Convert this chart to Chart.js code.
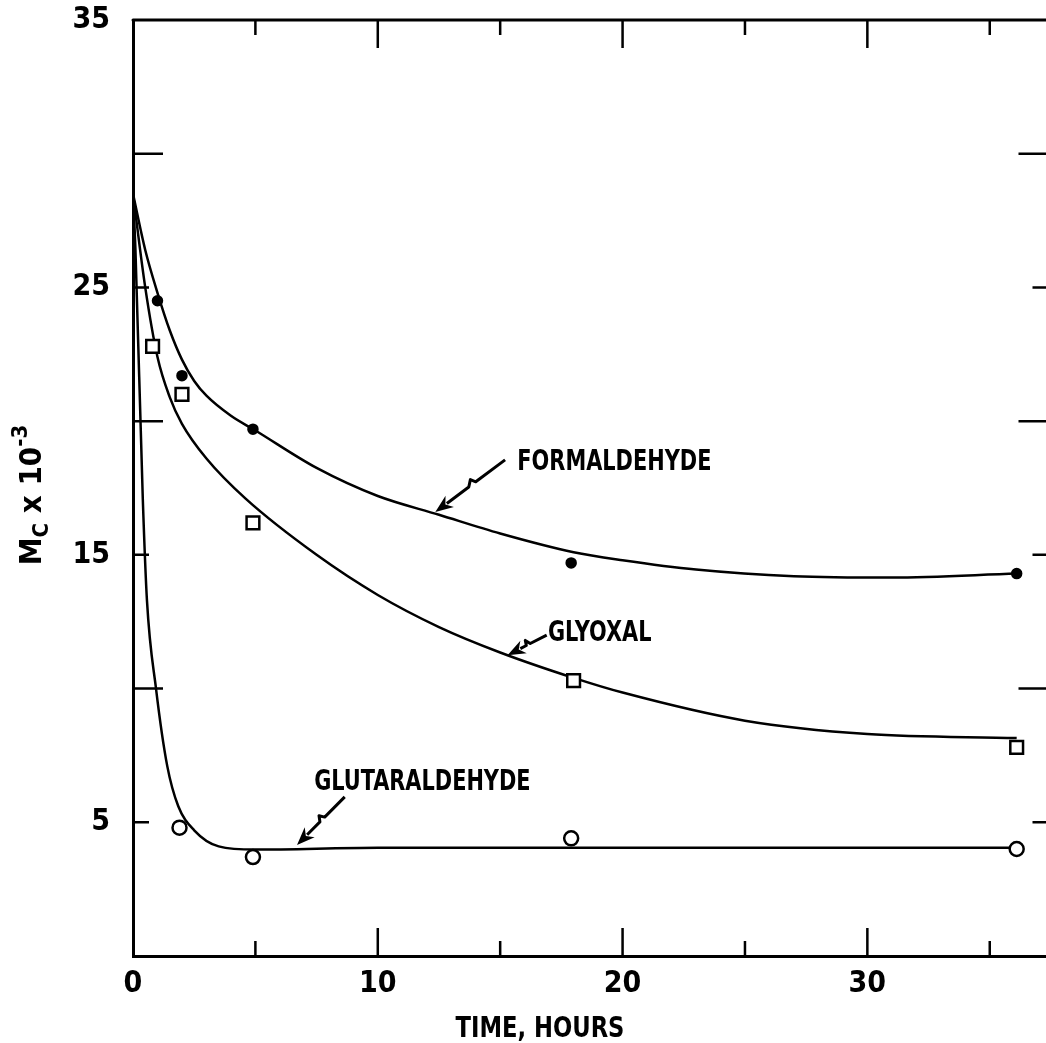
<!DOCTYPE html>
<html>
<head>
<meta charset="utf-8">
<title>Mc vs time</title>
<script src="https://cdn.jsdelivr.net/npm/chart.js@4.4.1/dist/chart.umd.min.js"></script>
<style>
  html, body { margin: 0; padding: 0; background: #fff; overflow: hidden; }
  #wrap { width: 1060px; height: 1043px; }
</style>
</head>
<body>
<div id="wrap"><canvas id="mcChart" width="1060" height="1043"></canvas></div>
<script>
// ---- measured points (time in hours, Mc x 10^-3) ----
const formTimes = [1.0, 2.0, 4.9, 17.9, 36.1];
const formMc    = [24.5, 21.7, 19.7, 14.7, 14.3];

const glyTimes  = [0.8, 2.0, 4.9, 18.0, 36.1];
const glyMc     = [22.8, 21.0, 16.2, 10.3, 7.8];

const glutTimes = [1.9, 4.9, 17.9, 36.1];
const glutMc    = [4.8, 3.7, 4.4, 4.0];

// ---- hand-fitted curves ----
const formCurveT  = [0, 0.5, 1, 1.5, 2, 2.5, 3, 4, 5, 7.5, 10, 12.5, 15, 18, 20, 23, 27, 31, 36.1];
const formCurveMc = [28.5, 26.4, 24.8, 23.4, 22.3, 21.5, 20.95, 20.2, 19.65, 18.25, 17.2, 16.5, 15.8, 15.1, 14.8, 14.45, 14.2, 14.15, 14.3];

const glyCurveT  = [0, 0.5, 1, 1.5, 2, 3, 4.6, 7.5, 10, 12.5, 15, 18, 20, 25, 30, 36.1];
const glyCurveMc = [28.5, 25.0, 22.4, 20.9, 19.9, 18.6, 17.1, 15.0, 13.5, 12.3, 11.35, 10.4, 9.85, 8.8, 8.3, 8.15];

const glutCurveT  = [0, 0.1, 0.4, 0.57, 0.94, 1.4, 1.85, 2.5, 3.5, 5, 10, 20, 36.1];
const glutCurveMc = [28.5, 26.4, 17.1, 13.3, 10.0, 7.1, 5.6, 4.7, 4.1, 3.98, 4.05, 4.05, 4.05];

// ---- axes ----
const xTickLabels = [0, 10, 20, 30];
const yTickLabels = [5, 15, 25, 35];
const xTickMarks  = [5, 10, 15, 20, 25, 30, 35];
const yTickMarks  = [5, 10, 15, 20, 25, 30];

const FONT = "'Liberation Sans Narrow', 'DejaVu Sans Condensed', sans-serif";

// curve labels with their pointer arrows (data coordinates)
const curveLabels = [
  { text: "FORMALDEHYDE",   at: [15.7, 18.45], tail: [15.2, 18.55], head: [12.35, 16.6] },
  { text: "GLYOXAL",        at: [16.95, 12.05], tail: [16.9, 12.0], head: [15.3, 11.25] },
  { text: "GLUTARALDEHYDE", at: [7.4, 6.5],   tail: [8.65, 5.95], head: [6.7, 4.15] }
];

function toXY(xs, ys) {
  return xs.map((x, i) => ({ x: x, y: ys[i] }));
}

function curve(xs, ys) {
  return {
    data: toXY(xs, ys),
    showLine: true,
    borderColor: "#000",
    borderWidth: 2.5,
    pointRadius: 0,
    cubicInterpolationMode: "monotone",
    fill: false,
    order: 2
  };
}

function marks(xs, ys, style, radius, filled) {
  return {
    data: toXY(xs, ys),
    showLine: false,
    pointStyle: style,
    pointRadius: radius,
    pointBorderWidth: 2.5,
    pointBorderColor: "#000",
    pointBackgroundColor: filled ? "#000" : "#fff",
    order: 1
  };
}

// no overflow padding for end labels: the frame sits where afterFit puts it
function noScalePadding(s) {
  s.paddingTop = 0;
  s.paddingBottom = 0;
  s.paddingLeft = 0;
  s.paddingRight = 0;
}

// ========================
// ARROWS
// ========================
function drawArrow(ctx, x1, y1, x2, y2) {
  const dx = x2 - x1, dy = y2 - y1;
  const len = Math.hypot(dx, dy);
  const ux = dx / len, uy = dy / len;
  const nx = -uy, ny = ux;
  const headLen = 18, headW = 7;

  const k1 = 0.42 * len, k2 = 0.52 * len;
  ctx.beginPath();
  ctx.moveTo(x1, y1);
  ctx.lineTo(x1 + ux * k1, y1 + uy * k1);
  ctx.lineTo(x1 + ux * (k1 + 3) + nx * 5, y1 + uy * (k1 + 3) + ny * 5);
  ctx.lineTo(x1 + ux * k2, y1 + uy * k2);
  ctx.lineTo(x2 - ux * headLen * 0.8, y2 - uy * headLen * 0.8);
  ctx.stroke();

  ctx.beginPath();
  ctx.moveTo(x2, y2);
  ctx.lineTo(x2 - ux * headLen + nx * headW, y2 - uy * headLen + ny * headW);
  ctx.lineTo(x2 - ux * headLen * 0.7, y2 - uy * headLen * 0.7);
  ctx.lineTo(x2 - ux * headLen - nx * headW, y2 - uy * headLen - ny * headW);
  ctx.closePath();
  ctx.fill();
}

// frame, inward ticks, axis titles and curve labels
const decorations = {
  id: "decorations",
  afterDraw(chart) {
    const ctx = chart.ctx;
    const xs = chart.scales.x, ys = chart.scales.y;
    const a = chart.chartArea;

    ctx.save();
    ctx.strokeStyle = "#000";
    ctx.fillStyle = "#000";
    ctx.lineCap = "round";

    // top edge of the frame
    ctx.lineWidth = 3;
    ctx.beginPath();
    ctx.moveTo(a.left, a.top);
    ctx.lineTo(a.right, a.top);
    ctx.stroke();

    ctx.lineWidth = 2.5;
    ctx.lineCap = "butt";
    xTickMarks.forEach(v => {
      const px = xs.getPixelForValue(v);
      const len = v % 10 === 0 ? 28 : 15;
      ctx.beginPath();
      ctx.moveTo(px, a.bottom);
      ctx.lineTo(px, a.bottom - len);
      ctx.moveTo(px, a.top);
      ctx.lineTo(px, a.top + len);
      ctx.stroke();
    });
    yTickMarks.forEach(v => {
      const py = ys.getPixelForValue(v);
      const len = v % 10 === 0 ? 30 : 16;
      ctx.beginPath();
      ctx.moveTo(a.left, py);
      ctx.lineTo(a.left + len, py);
      ctx.moveTo(a.right, py);
      ctx.lineTo(a.right - len, py);
      ctx.stroke();
    });

    // x title
    ctx.save();
    ctx.translate(540, 1037);
    ctx.scale(0.9, 1);
    ctx.font = "bold 28px " + FONT;
    ctx.textAlign = "center";
    ctx.textBaseline = "alphabetic";
    ctx.fillText("TIME, HOURS", 0, 0);
    ctx.restore();

    // y title: Mc x 10^-3, rotated
    ctx.save();
    ctx.translate(41, 495);
    ctx.rotate(-Math.PI / 2);
    const big = "bold 31px " + FONT, small = "bold 22px " + FONT;
    const parts = [
      { t: "M", f: big, dy: 0 },
      { t: "C", f: small, dy: 7 },
      { t: " x 10", f: big, dy: 0 },
      { t: "-3", f: small, dy: -14 }
    ];
    let total = 0;
    parts.forEach(p => { ctx.font = p.f; p.w = ctx.measureText(p.t).width; total += p.w; });
    let cx = -total / 2;
    ctx.textAlign = "left";
    parts.forEach(p => {
      ctx.font = p.f;
      ctx.fillText(p.t, cx, p.dy);
      cx += p.w;
    });
    ctx.restore();

    // curve labels, lettering condensed
    curveLabels.forEach(l => {
      ctx.save();
      ctx.translate(xs.getPixelForValue(l.at[0]), ys.getPixelForValue(l.at[1]));
      ctx.scale(0.8, 1);
      ctx.font = "bold 29px " + FONT;
      ctx.textAlign = "left";
      ctx.textBaseline = "middle";
      ctx.fillText(l.text, 0, 0);
      ctx.restore();
    });

    ctx.lineWidth = 3;
    ctx.lineJoin = "round";
    curveLabels.forEach(l => {
      drawArrow(ctx,
        xs.getPixelForValue(l.tail[0]), ys.getPixelForValue(l.tail[1]),
        xs.getPixelForValue(l.head[0]), ys.getPixelForValue(l.head[1]));
    });

    ctx.restore();
  }
};

const tickFont = { family: FONT, size: 30, weight: "bold" };

new Chart(document.getElementById("mcChart"), {
  type: "scatter",
  data: {
    datasets: [
      curve(formCurveT, formCurveMc),
      curve(glyCurveT, glyCurveMc),
      curve(glutCurveT, glutCurveMc),
      marks(formTimes, formMc, "circle", 4.5, true),
      marks(glyTimes, glyMc, "rect", 9, false),
      marks(glutTimes, glutMc, "circle", 7, false)
    ]
  },
  options: {
    responsive: false,
    animation: false,
    layout: { padding: { top: 20, right: 10, left: 0, bottom: 0 } },
    plugins: {
      legend: { display: false },
      tooltip: { enabled: false }
    },
    scales: {
      x: {
        type: "linear",
        min: 0,
        max: 37.4,
        grid: { display: false, drawTicks: false },
        border: { display: true, width: 3, color: "#000" },
        afterBuildTicks: s => { s.ticks = xTickLabels.map(v => ({ value: v })); },
        afterFit: s => { s.height = 87; noScalePadding(s); },
        ticks: { color: "#000", font: tickFont, padding: 10, maxRotation: 0, autoSkip: false }
      },
      y: {
        type: "linear",
        min: 0,
        max: 35,
        grid: { display: false, drawTicks: false },
        border: { display: true, width: 3, color: "#000" },
        afterBuildTicks: s => { s.ticks = yTickLabels.map(v => ({ value: v })); },
        afterFit: s => { s.width = 133; noScalePadding(s); },
        ticks: { color: "#000", font: tickFont, padding: 23, autoSkip: false }
      }
    }
  },
  plugins: [decorations]
});
</script>
</body>
</html>
